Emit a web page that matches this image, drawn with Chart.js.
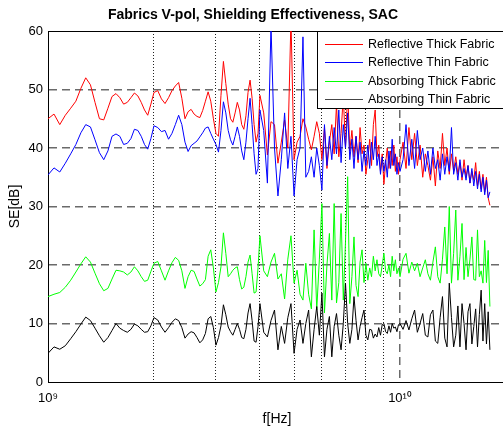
<!DOCTYPE html>
<html>
<head>
<meta charset="utf-8">
<title>Fabrics V-pol, Shielding Effectiveness, SAC</title>
<script src="https://cdn.jsdelivr.net/npm/chart.js@4.4.1/dist/chart.umd.min.js"></script>
<style>
  html, body { margin: 0; padding: 0; background: #fff; overflow: hidden; }
  canvas { display: block; }
</style>
</head>
<body>
<canvas id="seChart" width="554" height="430"></canvas>
<script>
// Frecuencias en GHz
const freqGHz = [
  1.00, 1.04, 1.08, 1.12, 1.16, 1.20, 1.24, 1.28, 1.32, 1.36, 1.40, 1.44, 1.48, 1.52, 1.56, 1.60, 1.64, 1.68, 1.72, 1.76, 1.80, 1.84, 1.88, 1.92, 1.96,
  2.00, 2.05, 2.10, 2.15, 2.20, 2.25, 2.30, 2.35, 2.40, 2.45, 2.50, 2.55, 2.60, 2.65, 2.70, 2.75, 2.80, 2.85, 2.90, 2.95,
  3.00, 3.05, 3.10, 3.15, 3.20, 3.25, 3.30, 3.35, 3.40, 3.45, 3.50, 3.55, 3.60, 3.65, 3.70, 3.75, 3.80, 3.85, 3.90, 3.95,
  4.0, 4.1, 4.2, 4.3, 4.4, 4.5, 4.6, 4.7, 4.8, 4.9, 5.0, 5.1, 5.2, 5.3, 5.4, 5.5, 5.6, 5.7, 5.8, 5.9,
  6.0, 6.1, 6.2, 6.3, 6.4, 6.5, 6.6, 6.7, 6.8, 6.9, 7.0, 7.1, 7.2, 7.3, 7.4, 7.5, 7.6, 7.7, 7.8, 7.9,
  8.0, 8.1, 8.2, 8.3, 8.4, 8.5, 8.6, 8.7, 8.8, 8.9, 9.0, 9.1, 9.2, 9.3, 9.4, 9.5, 9.6, 9.7, 9.8, 9.9,
  10.0, 10.2, 10.4, 10.6, 10.8, 11.0, 11.2, 11.4, 11.6, 11.8, 12.0, 12.2, 12.4, 12.6, 12.8, 13.0, 13.2, 13.4, 13.6, 13.8,
  14.0, 14.2, 14.4, 14.6, 14.8, 15.0, 15.2, 15.4, 15.6, 15.8, 16.0, 16.2, 16.4, 16.6, 16.8, 17.0, 17.2, 17.4, 17.6, 17.8, 18.0
];

// SE en dB por tejido
const reflThick = [
  45.0, 45.8, 44.0, 45.6, 46.8, 48.0, 50.2, 52.0, 50.8, 47.8, 45.0, 44.8, 46.8, 48.8, 49.3, 48.6, 47.5, 47.8, 48.6, 49.4, 48.9, 47.8, 46.5, 45.6, 47.5,
  49.5, 49.8, 48.4, 47.6, 48.6, 49.8, 50.6, 51.2, 48.5, 45.0, 46.2, 46.6, 45.8, 45.4, 45.2, 46.4, 48.0, 49.6, 48.0, 45.0,
  42.5, 42.0, 49.0, 54.8, 51.0, 47.5, 45.0, 44.4, 46.0, 47.8, 46.5, 44.0, 43.2, 45.5, 49.5, 51.6, 48.5, 44.0, 41.0, 42.5,
  49.0, 46.0, 38.8, 44.5, 44.0, 37.4, 41.0, 44.8, 40.0, 62.0, 38.0, 41.0, 42.0, 45.0, 43.6, 41.5, 39.7, 42.0, 44.5, 42.5,
  38.0, 43.5, 36.5, 41.0, 44.0, 39.0, 47.5, 38.5, 42.5, 49.0, 40.0, 50.0, 39.5, 43.0, 38.5, 42.0, 37.5, 43.5, 39.0, 40.5,
  35.5, 38.0, 41.5, 37.0, 44.0, 46.5, 38.5, 40.5, 36.0, 39.0, 33.8, 37.5, 40.0, 36.5, 39.5, 37.0, 40.5, 36.0, 38.5, 35.5,
  38.0, 41.0, 36.5, 43.5, 38.0, 42.5, 37.0, 40.5, 35.0, 39.0, 37.0, 34.5, 38.5, 33.5, 39.5, 36.5, 42.5, 37.0, 40.0, 35.5,
  39.0, 36.0, 38.5, 35.5, 37.5, 34.5, 38.0, 35.0, 37.0, 34.0, 36.0, 34.5, 37.5, 33.5, 36.0, 33.0, 35.5, 32.5, 35.0, 31.5, 30.2
];
const reflThin = [
  35.4, 36.6, 35.9, 37.4, 39.0, 40.6, 42.6, 44.0, 43.6, 41.4, 39.2, 38.0, 39.5, 42.0, 42.4, 42.0, 40.6, 40.8, 41.6, 43.2, 43.0, 42.0, 40.6, 39.8, 41.6,
  43.8, 43.5, 42.8, 43.0, 41.5, 42.5, 44.0, 45.6, 44.0, 41.0, 39.4, 40.4, 40.8, 41.2, 41.9, 42.6, 43.4, 43.6, 42.5, 41.5,
  40.6, 39.3, 43.0, 47.9, 46.0, 43.0, 41.4, 40.5, 42.0, 43.6, 42.0, 39.5, 38.0, 41.0, 45.0, 48.5, 44.0, 39.0, 35.5, 36.5,
  46.5, 43.0, 34.0, 61.0, 40.0, 31.8, 38.0, 46.0, 36.5, 42.0, 31.8, 38.0, 40.0, 59.0, 35.0, 36.0, 38.5, 35.0, 40.0, 37.0,
  32.8, 44.0, 37.0, 42.0, 38.0, 43.5, 39.0, 46.5, 37.5, 44.0, 40.0, 46.0, 38.0, 41.5, 36.5, 42.0, 38.0, 41.0, 36.0, 39.5,
  37.0, 40.5, 36.5, 41.0, 38.0, 42.0, 37.0, 39.0, 35.5, 38.5, 36.0, 38.0, 35.0, 39.5, 36.5, 41.5, 37.0, 39.0, 35.5, 37.5,
  36.0, 38.0, 44.0, 37.0, 41.5, 36.5, 43.0, 38.0, 40.0, 36.0, 39.5, 35.5, 40.0, 36.5, 38.0, 34.5, 39.0, 35.5, 38.5, 36.0,
  43.5, 35.5, 37.5, 34.5, 38.0, 35.0, 36.5, 34.5, 37.0, 34.0, 36.5, 33.5, 36.0, 33.0, 35.5, 32.5, 35.0, 32.0, 34.5, 31.5, 32.5
];
const absThick = [
  14.6, 15.0, 15.3, 16.2, 17.4, 18.8, 20.2, 21.4, 20.5, 18.6, 16.8, 15.6, 16.0, 17.6, 19.1, 19.0, 18.8, 18.3, 18.8, 19.7, 19.0, 18.0, 17.2, 17.4, 18.9,
  20.3, 20.6, 19.0, 17.4, 19.0, 20.4, 21.3, 20.8, 19.0, 16.0, 18.0, 19.1, 18.9, 17.6, 16.4, 16.8, 17.5, 21.5, 22.6, 19.5,
  15.4, 17.0, 19.7, 25.5, 22.0, 18.0, 18.5, 19.1, 19.5, 19.7, 17.5, 15.9, 16.2, 18.0, 20.5, 21.7, 18.5, 15.2, 15.4, 19.5,
  25.0, 19.0, 18.0, 20.5, 22.0, 17.6, 18.5, 14.2, 21.0, 25.0, 16.9, 19.1, 15.0, 14.0, 20.3, 15.0, 12.5, 26.0, 12.3, 21.0,
  30.5, 11.8, 20.0, 25.4, 14.0, 30.5, 13.5, 17.0, 28.8, 14.0, 24.0, 35.1, 13.4, 18.0, 24.8, 16.5, 14.6, 20.5, 22.6, 17.0,
  20.3, 17.4, 19.5, 18.0, 21.5, 19.0, 20.9, 18.5, 18.0, 20.0, 22.0, 19.0, 18.5, 20.0, 18.0, 21.5, 19.0, 20.9, 18.5, 19.5,
  18.0, 21.0, 22.0, 18.6, 20.5, 19.0, 20.3, 18.0, 19.5, 20.9, 18.5, 17.4, 20.5, 23.1, 18.0, 16.9, 21.0, 26.5, 18.5, 30.0,
  16.9, 22.0, 29.4, 17.4, 21.5, 27.1, 17.5, 23.0, 18.0, 21.0, 24.8, 17.5, 17.4, 26.0, 18.0, 19.0, 16.9, 24.2, 17.0, 22.5, 12.9
];
const absThin = [
  4.9, 6.0, 5.6, 6.2, 7.4, 8.6, 9.9, 11.1, 10.5, 9.2, 7.9, 6.8, 7.6, 8.8, 10.0, 9.2, 8.8, 8.5, 9.0, 9.9, 9.6, 9.0, 8.5, 8.6, 9.6,
  11.0, 10.6, 9.4, 8.5, 9.3, 10.2, 10.8, 10.5, 9.3, 7.5, 8.2, 8.6, 8.4, 7.6, 6.7, 7.2, 8.3, 10.8, 11.2, 9.3,
  6.3, 7.6, 9.6, 13.2, 11.5, 9.4, 8.6, 8.0, 9.0, 10.0, 9.0, 7.6, 7.4, 9.0, 11.8, 13.4, 10.5, 7.0, 6.8, 9.5,
  13.4, 8.5, 7.7, 10.5, 12.3, 5.5, 9.5, 6.6, 11.0, 13.4, 4.9, 9.0, 10.6, 6.6, 10.0, 12.3, 4.3, 9.0, 12.9, 8.0,
  15.2, 4.3, 9.0, 11.2, 4.3, 9.5, 11.7, 8.0, 5.5, 10.0, 16.9, 10.0, 6.6, 9.0, 14.6, 10.5, 7.2, 9.5, 11.0, 12.3,
  8.0, 7.2, 9.0, 8.9, 7.5, 8.2, 7.7, 9.3, 8.0, 9.8, 10.0, 8.6, 8.3, 9.6, 8.5, 10.0, 9.2, 9.4, 8.6, 9.8,
  10.0, 9.0, 10.5, 8.9, 10.8, 12.3, 8.5, 10.0, 11.7, 8.0, 7.7, 11.5, 12.3, 7.0, 6.6, 11.0, 14.6, 7.5, 6.0, 16.9,
  11.0, 6.0, 8.0, 13.0, 6.0, 13.4, 10.0, 5.5, 12.0, 13.4, 6.5, 9.5, 12.5, 6.0, 11.5, 15.7, 7.0, 13.4, 6.5, 12.0, 5.5
];

const seriesNames = ['Reflective Thick Fabric', 'Reflective Thin Fabric', 'Absorbing Thick Fabric', 'Absorbing Thin Fabric'];
const seriesColors = ['#ff0000', '#0000ff', '#00ff00', '#000000'];
const seriesValues = [reflThick, reflThin, absThick, absThin];

// Ejes
const xTickValues = [1e9, 2e9, 3e9, 4e9, 5e9, 6e9, 7e9, 8e9, 9e9, 1e10];
const xTickLabels = ['10\u2079', '', '', '', '', '', '', '', '', '10\u00b9\u2070'];
const xMajorTicks = [1e10];
const yTickValues = [0, 10, 20, 30, 40, 50, 60];

const FONT = '"Liberation Sans", Arial, Helvetica, sans-serif';

document.addEventListener('DOMContentLoaded', () => {
  const datasets = seriesValues.map((vals, i) => ({
    label: seriesNames[i],
    data: freqGHz.map((f, j) => ({ x: f * 1e9, y: vals[j] })),
    borderColor: seriesColors[i],
    borderWidth: 1,
    pointRadius: 0,
    tension: 0,
    fill: false,
    xAxisID: 'x',
    yAxisID: 'y',
    order: 4 - i   // como en MATLAB: la ultima serie queda encima
  }));

  // leyenda con caja blanca, dentro del area del grafico (arriba a la derecha)
  const legendBox = {
    id: 'legendBox',
    afterDatasetsDraw(chart) {
      const { ctx, chartArea } = chart;
      const x0 = chartArea.left + 269;
      const y0 = chartArea.top;
      const w = chartArea.right - x0;
      const h = 78;
      ctx.save();
      ctx.fillStyle = '#fff';
      ctx.fillRect(x0, y0, w, h);
      ctx.strokeStyle = '#000';
      ctx.lineWidth = 1;
      ctx.strokeRect(x0 + 0.5, y0 + 0.5, w - 1, h - 1);
      ctx.font = '12.5px ' + FONT;
      ctx.textBaseline = 'middle';
      ctx.textAlign = 'left';
      chart.data.datasets.forEach((ds, i) => {
        const y = Math.round(y0 + 12.5 + i * 18.5) + 0.5;
        ctx.strokeStyle = i === 3 ? '#444' : ds.borderColor;
        ctx.beginPath();
        ctx.moveTo(x0 + 8, y);
        ctx.lineTo(x0 + 46, y);
        ctx.stroke();
        ctx.fillStyle = '#000';
        ctx.fillText(ds.label, x0 + 51, y);
      });
      ctx.restore();
    }
  };

  new Chart(document.getElementById('seChart'), {
    type: 'line',
    data: { datasets },
    options: {
      responsive: false,
      animation: false,
      devicePixelRatio: 1,
      layout: { padding: { left: 0, right: 48, top: 0, bottom: 0 } },
      plugins: {
        legend: { display: false },
        tooltip: { enabled: false },
        title: {
          display: true,
          text: 'Fabrics V-pol, Shielding Effectiveness, SAC',
          color: '#000',
          font: { family: FONT, size: 14, weight: 'bold', lineHeight: 1.2 },
          padding: { top: 7, bottom: 7.2 }
        }
      },
      scales: {
        x: {
          type: 'logarithmic',
          position: 'bottom',
          min: 1e9,
          max: 2e10,
          afterBuildTicks: axis => { axis.ticks = xTickValues.map(v => ({ value: v })); },
          afterFit: axis => { axis.height = 48; },
          grid: {
            drawTicks: false,
            lineWidth: 1,
            color: c => (c.tick && c.index > 0 && c.index < xTickValues.length - 1) ? '#222' : 'rgba(0,0,0,0)'
          },
          border: { display: true, color: '#000', width: 1, dash: [1, 2] },
          ticks: {
            autoSkip: false,
            maxRotation: 0,
            padding: 9,
            color: '#000',
            font: { family: FONT, size: 13 },
            callback: (v, i) => xTickLabels[i]
          },
          title: {
            display: true,
            text: 'f[Hz]',
            color: '#000',
            font: { family: FONT, size: 14, lineHeight: 1.2 },
            padding: { top: 0, bottom: 2 }
          }
        },
        x2: {
          type: 'logarithmic',
          position: 'top',
          min: 1e9,
          max: 2e10,
          afterBuildTicks: axis => { axis.ticks = xMajorTicks.map(v => ({ value: v })); },
          afterFit: axis => { axis.height = 0; },
          grid: { drawTicks: false, lineWidth: 1.5, color: '#6a6a6a' },
          border: { display: true, color: '#000', width: 1, dash: [8, 5] },
          ticks: { display: false }
        },
        y: {
          type: 'linear',
          position: 'left',
          min: 0,
          max: 60,
          afterBuildTicks: axis => { axis.ticks = yTickValues.map(v => ({ value: v })); },
          afterFit: axis => { axis.width = 48; },
          grid: {
            drawTicks: false,
            lineWidth: 1.5,
            color: c => (c.tick && c.tick.value > 0 && c.tick.value < 60) ? '#6a6a6a' : 'rgba(0,0,0,0)'
          },
          border: { display: true, color: '#000', width: 1, dash: [8, 5] },
          ticks: {
            padding: 5,
            color: '#000',
            font: { family: FONT, size: 13 }
          },
          title: {
            display: true,
            text: 'SE[dB]',
            color: '#000',
            font: { family: FONT, size: 14, lineHeight: 1.2 },
            padding: { top: 7, bottom: 0 }
          }
        }
      }
    },
    plugins: [legendBox]
  });
});
</script>
</body>
</html>
